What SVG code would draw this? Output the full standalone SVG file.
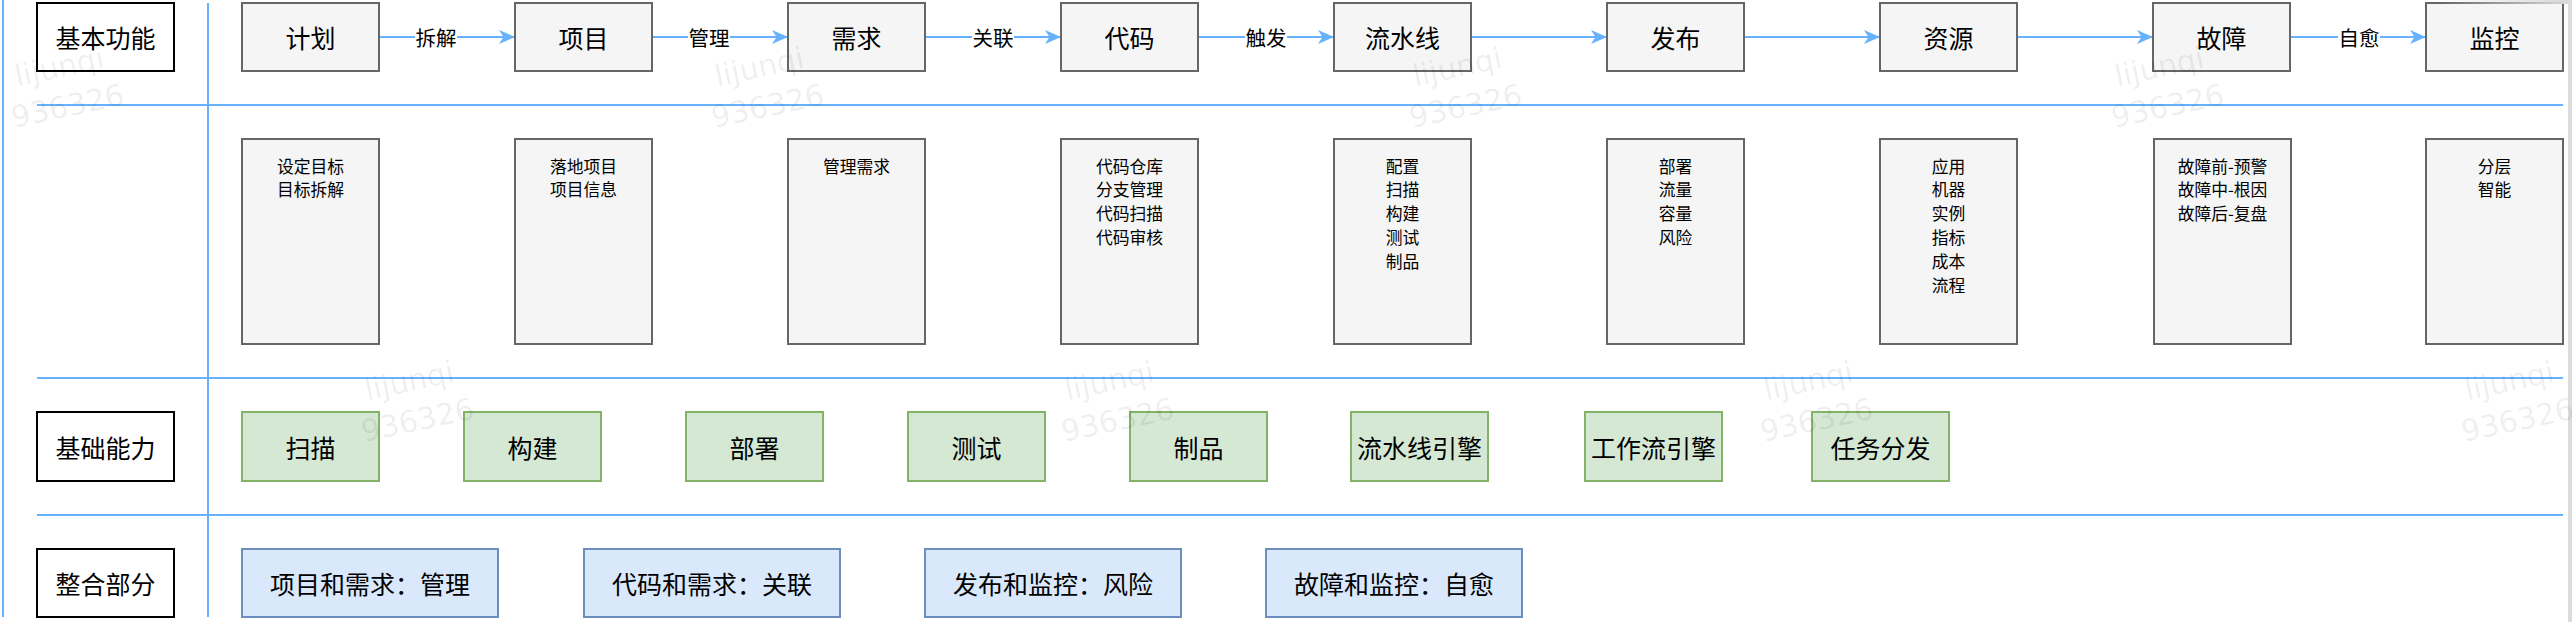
<svg xmlns="http://www.w3.org/2000/svg" width="2572" height="622" viewBox="0 0 2572 622">
<defs>
<style>
.lane{stroke:#66b2ff;stroke-width:2;fill:none}
.edge{stroke:#66b2ff;stroke-width:2;fill:none}
.hdr rect{fill:#ffffff;stroke:#000000;stroke-width:2}
.gray rect{fill:#f5f5f5;stroke:#666666;stroke-width:2}
.green rect{fill:#d5e8d4;stroke:#82b366;stroke-width:2}
.blue rect{fill:#dae8fc;stroke:#6c8ebf;stroke-width:2}
text{font-family:"Noto Sans CJK SC","Noto Sans",sans-serif;fill:#000000;text-anchor:middle;dominant-baseline:central}
.big{font-size:25px}
.lbl{font-size:20.5px}
.det{font-size:16.8px}
.lblbg{fill:#ffffff;stroke:none}
.wm text{font-family:"DejaVu Sans",sans-serif;font-size:30px;fill:#000000;fill-opacity:0.07;dominant-baseline:alphabetic}
</style>
<marker id="arr" viewBox="0 0 16 14" refX="16" refY="7" markerWidth="16" markerHeight="14" markerUnits="userSpaceOnUse" orient="auto">
<path d="M0,0 L16,7 L0,14 L4.5,7 Z" fill="#66b2ff"/>
</marker>
<linearGradient id="shade" x1="0" y1="0" x2="1" y2="0">
<stop offset="0" stop-color="#d8d8d8" stop-opacity="0"/>
<stop offset="1" stop-color="#d8d8d8" stop-opacity="1"/>
</linearGradient>
</defs>

<rect x="0" y="0" width="2572" height="622" fill="#ffffff"/>

<g id="lanes">
<line class="lane" x1="3" y1="0" x2="3" y2="617"/>
<line class="lane" x1="208" y1="3" x2="208" y2="617"/>
<line class="lane" x1="37" y1="105" x2="2563" y2="105"/>
<line class="lane" x1="37" y1="378" x2="2563" y2="378"/>
<line class="lane" x1="37" y1="515" x2="2563" y2="515"/>
</g>

<g id="hdr-basic" class="hdr"><rect x="37" y="3" width="137" height="68"/><text class="big" x="105.5" y="37">基本功能</text></g>
<g id="hdr-base" class="hdr"><rect x="37" y="412" width="137" height="69"/><text class="big" x="105.5" y="446.5">基础能力</text></g>
<g id="hdr-int" class="hdr"><rect x="37" y="549" width="137" height="68"/><text class="big" x="105.5" y="583">整合部分</text></g>

<g id="connectors">
<line class="edge" x1="379" y1="37" x2="515" y2="37" marker-end="url(#arr)"/>
<line class="edge" x1="652" y1="37" x2="788" y2="37" marker-end="url(#arr)"/>
<line class="edge" x1="925" y1="37" x2="1061" y2="37" marker-end="url(#arr)"/>
<line class="edge" x1="1198" y1="37" x2="1334" y2="37" marker-end="url(#arr)"/>
<line class="edge" x1="1471" y1="37" x2="1607" y2="37" marker-end="url(#arr)"/>
<line class="edge" x1="1744" y1="37" x2="1880" y2="37" marker-end="url(#arr)"/>
<line class="edge" x1="2017" y1="37" x2="2153" y2="37" marker-end="url(#arr)"/>
<line class="edge" x1="2290" y1="37" x2="2426" y2="37" marker-end="url(#arr)"/>
<rect class="lblbg" x="415" y="24" width="42" height="26"/><text class="lbl" x="436" y="37">拆解</text>
<rect class="lblbg" x="688" y="24" width="42" height="26"/><text class="lbl" x="709" y="37">管理</text>
<rect class="lblbg" x="972" y="24" width="42" height="26"/><text class="lbl" x="993" y="37">关联</text>
<rect class="lblbg" x="1245" y="24" width="42" height="26"/><text class="lbl" x="1266" y="37">触发</text>
<rect class="lblbg" x="2338" y="24" width="42" height="26"/><text class="lbl" x="2359" y="37">自愈</text>
</g>

<g id="n-plan" class="gray"><rect x="242" y="3" width="137" height="68"/><text class="big" x="310.5" y="37">计划</text></g>
<g id="n-project" class="gray"><rect x="515" y="3" width="137" height="68"/><text class="big" x="583.5" y="37">项目</text></g>
<g id="n-req" class="gray"><rect x="788" y="3" width="137" height="68"/><text class="big" x="856.5" y="37">需求</text></g>
<g id="n-code" class="gray"><rect x="1061" y="3" width="137" height="68"/><text class="big" x="1129.5" y="37">代码</text></g>
<g id="n-pipe" class="gray"><rect x="1334" y="3" width="137" height="68"/><text class="big" x="1402.5" y="37">流水线</text></g>
<g id="n-release" class="gray"><rect x="1607" y="3" width="137" height="68"/><text class="big" x="1675.5" y="37">发布</text></g>
<g id="n-res" class="gray"><rect x="1880" y="3" width="137" height="68"/><text class="big" x="1948.5" y="37">资源</text></g>
<g id="n-fault" class="gray"><rect x="2153" y="3" width="137" height="68"/><text class="big" x="2221.5" y="37">故障</text></g>
<g id="n-mon" class="gray"><rect x="2426" y="3" width="137" height="68"/><text class="big" x="2494.5" y="37">监控</text></g>

<g id="d-plan" class="gray"><rect x="242" y="139" width="137" height="205"/>
<text class="det" x="310.5" y="165.5">设定目标</text><text class="det" x="310.5" y="189.3">目标拆解</text></g>
<g id="d-project" class="gray"><rect x="515" y="139" width="137" height="205"/>
<text class="det" x="583.5" y="165.5">落地项目</text><text class="det" x="583.5" y="189.3">项目信息</text></g>
<g id="d-req" class="gray"><rect x="788" y="139" width="137" height="205"/>
<text class="det" x="856.5" y="165.5">管理需求</text></g>
<g id="d-code" class="gray"><rect x="1061" y="139" width="137" height="205"/>
<text class="det" x="1129.5" y="165.5">代码仓库</text><text class="det" x="1129.5" y="189.3">分支管理</text><text class="det" x="1129.5" y="213.1">代码扫描</text><text class="det" x="1129.5" y="236.9">代码审核</text></g>
<g id="d-pipe" class="gray"><rect x="1334" y="139" width="137" height="205"/>
<text class="det" x="1402.5" y="165.5">配置</text><text class="det" x="1402.5" y="189.3">扫描</text><text class="det" x="1402.5" y="213.1">构建</text><text class="det" x="1402.5" y="236.9">测试</text><text class="det" x="1402.5" y="260.7">制品</text></g>
<g id="d-release" class="gray"><rect x="1607" y="139" width="137" height="205"/>
<text class="det" x="1675.5" y="165.5">部署</text><text class="det" x="1675.5" y="189.3">流量</text><text class="det" x="1675.5" y="213.1">容量</text><text class="det" x="1675.5" y="236.9">风险</text></g>
<g id="d-res" class="gray"><rect x="1880" y="139" width="137" height="205"/>
<text class="det" x="1948.5" y="165.5">应用</text><text class="det" x="1948.5" y="189.3">机器</text><text class="det" x="1948.5" y="213.1">实例</text><text class="det" x="1948.5" y="236.9">指标</text><text class="det" x="1948.5" y="260.7">成本</text><text class="det" x="1948.5" y="284.5">流程</text></g>
<g id="d-fault" class="gray"><rect x="2154" y="139" width="137" height="205"/>
<text class="det" x="2222.5" y="165.5">故障前-预警</text><text class="det" x="2222.5" y="189.3">故障中-根因</text><text class="det" x="2222.5" y="213.1">故障后-复盘</text></g>
<g id="d-mon" class="gray"><rect x="2426" y="139" width="137" height="205"/>
<text class="det" x="2494.5" y="165.5">分层</text><text class="det" x="2494.5" y="189.3">智能</text></g>

<g id="c-scan" class="green"><rect x="242" y="412" width="137" height="69"/><text class="big" x="310.5" y="446.5">扫描</text></g>
<g id="c-build" class="green"><rect x="464" y="412" width="137" height="69"/><text class="big" x="532.5" y="446.5">构建</text></g>
<g id="c-deploy" class="green"><rect x="686" y="412" width="137" height="69"/><text class="big" x="754.5" y="446.5">部署</text></g>
<g id="c-test" class="green"><rect x="908" y="412" width="137" height="69"/><text class="big" x="976.5" y="446.5">测试</text></g>
<g id="c-artifact" class="green"><rect x="1130" y="412" width="137" height="69"/><text class="big" x="1198.5" y="446.5">制品</text></g>
<g id="c-pipeengine" class="green"><rect x="1351" y="412" width="137" height="69"/><text class="big" x="1419.5" y="446.5">流水线引擎</text></g>
<g id="c-wfengine" class="green"><rect x="1585" y="412" width="137" height="69"/><text class="big" x="1653.5" y="446.5">工作流引擎</text></g>
<g id="c-dispatch" class="green"><rect x="1812" y="412" width="137" height="69"/><text class="big" x="1880.5" y="446.5">任务分发</text></g>

<g id="i-1" class="blue"><rect x="242" y="549" width="256" height="68"/><text class="big" x="370" y="583">项目和需求：管理</text></g>
<g id="i-2" class="blue"><rect x="584" y="549" width="256" height="68"/><text class="big" x="712" y="583">代码和需求：关联</text></g>
<g id="i-3" class="blue"><rect x="925" y="549" width="256" height="68"/><text class="big" x="1053" y="583">发布和监控：风险</text></g>
<g id="i-4" class="blue"><rect x="1266" y="549" width="256" height="68"/><text class="big" x="1394" y="583">故障和监控：自愈</text></g>

<rect x="2568" y="0" width="4" height="622" fill="#dcdcdc"/>
<rect x="2440" y="0" width="128" height="4" fill="url(#shade)"/>

<g class="wm">
<g transform="translate(14,128) rotate(-12)"><text x="57" y="-40">lijunqi</text><text x="57" y="0">936326</text></g>
<g transform="translate(714,128) rotate(-12)"><text x="57" y="-40">lijunqi</text><text x="57" y="0">936326</text></g>
<g transform="translate(1412,128) rotate(-12)"><text x="57" y="-40">lijunqi</text><text x="57" y="0">936326</text></g>
<g transform="translate(2114,128) rotate(-12)"><text x="57" y="-40">lijunqi</text><text x="57" y="0">936326</text></g>
<g transform="translate(364,442) rotate(-12)"><text x="57" y="-40">lijunqi</text><text x="57" y="0">936326</text></g>
<g transform="translate(1064,442) rotate(-12)"><text x="57" y="-40">lijunqi</text><text x="57" y="0">936326</text></g>
<g transform="translate(1763,442) rotate(-12)"><text x="57" y="-40">lijunqi</text><text x="57" y="0">936326</text></g>
<g transform="translate(2464,442) rotate(-12)"><text x="57" y="-40">lijunqi</text><text x="57" y="0">936326</text></g>
</g>
</svg>
